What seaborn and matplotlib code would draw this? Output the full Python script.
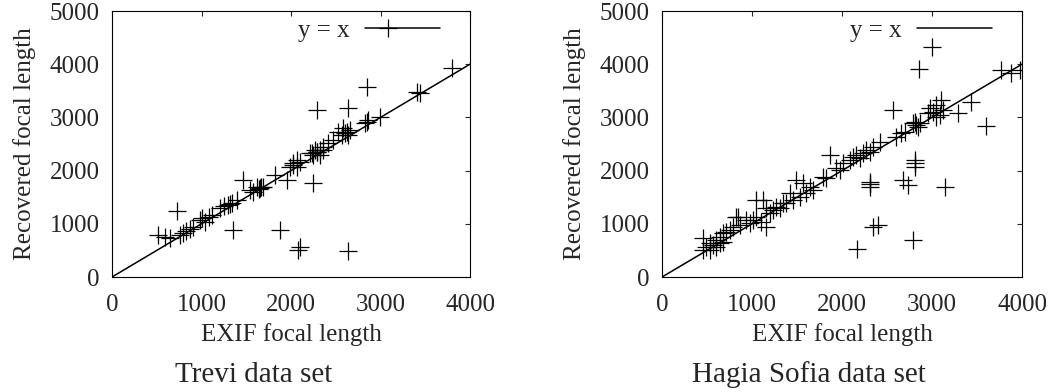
# -*- coding: utf-8 -*-
"""
EXIF vs recovered focal length scatter (Trevi / Hagia Sofia)
"""
import matplotlib
matplotlib.use('Agg')
import matplotlib.pyplot as plt
import seaborn as sns

# Trevi data set: (EXIF, recovered)
trevi_exif = [723, 514, 592, 648, 760, 790, 830, 870, 905, 983, 1010, 1040, 1080, 1117,
              1206, 1250, 1300, 1340, 1396, 1320, 1463, 1541, 1620, 1653, 1687, 1575, 1640, 1660,
              1352, 1877, 1821, 1955, 2245, 2022, 2100, 2067, 2078, 2100,
              2234, 2290, 2324, 2357, 3794, 3404, 3440, 2845, 2287, 2640,
              2994, 2845, 2826, 2863, 2622, 2658, 2603, 2566, 2528, 2640, 2584,
              2472, 2416, 2360, 2287, 2249, 2212, 2324, 2268, 2025, 2063, 1988,
              2640, 3088]
trevi_rec = [1247, 790, 752, 733, 790, 830, 860, 900, 940, 1070, 1100, 1040, 1130, 1166,
             1297, 1330, 1360, 1400, 1447, 1380, 1824, 1636, 1692, 1673, 1692, 1598, 1660, 1690,
             884, 884, 1918, 1824, 1767, 2106, 2162, 2068, 508, 564,
             2331, 2350, 2294, 2388, 3924, 3484, 3454, 3578, 3140, 3171,
             3014, 2920, 2890, 2952, 2732, 2764, 2701, 2670, 2732, 2670, 2796,
             2576, 2513, 2450, 2356, 2294, 2326, 2388, 2388, 2138, 2200, 2074,
             494, 4676]

# Hagia Sofia data set: (EXIF, recovered)
hagia_exif = [3004, 2855, 3771, 3882, 3974, 3437, 3289, 3604, 2567,
              3104, 3049, 3122, 3011, 2974, 3085, 3049, 2955,
              2863, 2826, 2789, 2845, 2808, 2660, 2604, 2697,
              2419, 2344, 2271, 2307, 2233, 2160, 2122, 2196, 2085, 2011, 1937, 1974,
              2808, 2808, 2808, 2310, 2310, 2310, 2678, 2733, 3141, 2344, 2400,
              2789, 2165, 1863, 1826, 1789,
              1493, 1567, 1641, 1678, 1604, 1530, 1419, 1456, 1382,
              1122, 1049, 1271, 1234, 1308, 1344, 1197, 1160,
              1011, 1049, 1104, 1160, 974, 938, 844,
              827, 863, 789, 752, 716, 678, 641, 604,
              456, 530, 493, 567, 604, 641, 678, 530, 456]
hagia_rec = [4330, 3905, 3892, 3830, 3892, 3296, 3078, 2839, 3140,
             3328, 3234, 3140, 3108, 3172, 3046, 3014, 3078,
             2890, 2858, 2890, 2826, 2920, 2702, 2638, 2732,
             2544, 2450, 2388, 2356, 2326, 2294, 2262, 2232, 2200, 2138, 2044, 2012,
             2200, 2138, 2075, 1790, 1745, 1700, 1824, 1730, 1698, 946, 978,
             703, 520, 2294, 1855, 1886,
             1824, 1762, 1698, 1636, 1574, 1510, 1574, 1448, 1386,
             1448, 1448, 1322, 1260, 1292, 1386, 1198, 1292,
             1071, 1134, 1040, 946, 1010, 1071, 1129,
             1134, 978, 946, 884, 852, 822, 758, 696,
             728, 634, 570, 602, 570, 634, 664, 508, 508]

diag = [0, 4000]

sns.set_style('white')
plt.rcParams['font.family'] = ['Liberation Serif', 'DejaVu Serif']

W, H = 1052, 392
fig = plt.figure(figsize=(W / 100, H / 100), dpi=100)

panels = [
    (trevi_exif, trevi_rec, 112, 358, 'Trevi data set', 254),
    (hagia_exif, hagia_rec, 662, 360, 'Hagia Sofia data set', 809),
]

for xs, ys, left, width, title, tx in panels:
    ax = fig.add_axes([left / W, (H - 277) / H, width / W, 266 / H])
    sns.lineplot(x=diag, y=diag, color='black', lw=1.1, label='y = x', ax=ax)
    sns.scatterplot(x=xs, y=ys, marker='+', s=170, color='black',
                    linewidth=0.9, legend=False, ax=ax)
    ax.set_xlim(0, 4000)
    ax.set_ylim(0, 5000)
    ax.set_xticks(range(0, 4001, 1000))
    ax.set_yticks(range(0, 5001, 1000))
    ax.tick_params(direction='in', top=True, right=True, length=3.6, width=0.8,
                   labelsize=18, pad=9)
    ax.tick_params(axis='x', pad=12)
    for sp in ax.spines.values():
        sp.set_linewidth(0.8)
        sp.set_color('black')
    ax.set_xlabel('EXIF focal length', fontsize=18, labelpad=5)
    ax.set_ylabel('Recovered focal length', fontsize=18, labelpad=10)
    ax.legend(loc='upper right', bbox_to_anchor=(0.9165, 0.968), frameon=False,
              markerfirst=False, handlelength=3.0, handletextpad=0.6,
              borderpad=0, borderaxespad=0, fontsize=18)
    fig.text(tx / W, (H - 382) / H, title, fontsize=21, ha='center', va='baseline')

fig.savefig('out.png', dpi=100)
plt.close(fig)
